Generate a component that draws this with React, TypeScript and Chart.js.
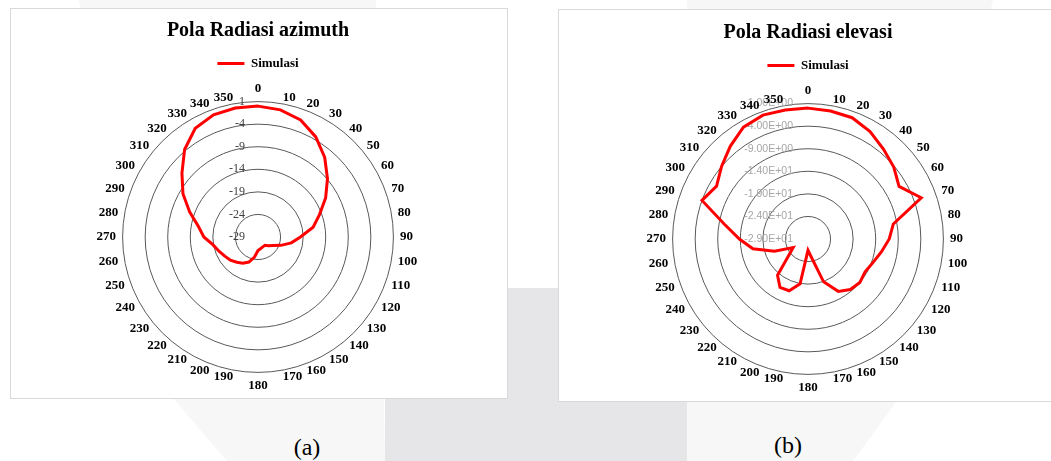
import React, { useEffect, useRef } from 'react';
import { Chart, registerables } from 'chart.js';

Chart.register(...registerables);

// ---------- data ----------
const ANGLE_LABELS = [
  '0', '10', '20', '30', '40', '50', '60', '70', '80', '90', '100', '110',
  '120', '130', '140', '150', '160', '170', '180', '190', '200', '210', '220', '230',
  '240', '250', '260', '270', '280', '290', '300', '310', '320', '330', '340', '350',
];

const AZIMUTH_VALUES = [
  0.0, -0.4, -1.4, -3.4, -6.0, -8.9, -11.7, -14.5, -16.6, -19.6, -21.5, -23.6,
  -25.2, -26.0, -26.6, -26.6, -26.5, -26.3, -26.0, -24.5, -23.1, -22.3, -21.7, -21.0,
  -20.5, -19.8, -18.9, -17.0, -15.6, -12.9, -9.8, -7.0, -3.7, -1.2, -0.2, 0.0,
];

const ELEVATION_VALUES = [
  0.0, -0.2, -0.4, -1.5, -3.0, -4.2, -5.7, -2.3, -9.8, -11.0, -12.5, -13.7,
  -14.4, -14.0, -14.4, -15.6, -18.9, -25.0, -26.5, -18.9, -16.8, -16.6, -18.5, -23.5,
  -25.2, -21.1, -16.6, -13.8, -10.2, -4.0, -5.6, -4.0, -2.2, -0.4, 0.2, 0.0,
];

const TICK_VALUES = [-29, -24, -19, -14, -9, -4, 1];
const TICK_LABELS_A = ['-29', '-24', '-19', '-14', '-9', '-4', '1'];
const TICK_LABELS_B = [
  '-2.90E+01', '-2.40E+01', '-1.90E+01', '-1.40E+01', '-9.00E+00', '-4.00E+00', '1.00E+00',
];

const SERIES_NAME = 'Simulasi';
const TITLE_A = 'Pola Radiasi azimuth';
const TITLE_B = 'Pola Radiasi elevasi';

// ---------- styling ----------
const SERIF = '"Liberation Serif", "Times New Roman", serif';
const SANS = '"Liberation Sans", Arial, sans-serif';
const LABEL_SPACE = 21.6; // room kept outside the outer ring for the angle labels
const LABEL_GAP = 6.5;

// value labels drawn to the left of the vertical axis, like Excel does
const sideTicksPlugin = {
  id: 'sideTicks',
  beforeDatasetsDraw(chart: any, _args: any, opts: any) {
    const s = chart.scales.r;
    const ctx = chart.ctx;
    ctx.save();
    ctx.font = opts.font;
    ctx.fillStyle = opts.color;
    ctx.textAlign = 'right';
    ctx.textBaseline = 'middle';
    TICK_VALUES.forEach((v, i) => {
      const d = s.getDistanceFromCenterForValue(v);
      ctx.fillText(opts.labels[i], s.xCenter - opts.offset, s.yCenter - d);
    });
    ctx.restore();
  },
};

// angle labels placed the Excel way: side labels vertically centred on their anchor
const angleLabelsPlugin = {
  id: 'angleLabels',
  beforeDatasetsDraw(chart: any) {
    const s = chart.scales.r;
    const ctx = chart.ctx;
    const labels: string[] = chart.data.labels;
    ctx.save();
    ctx.font = `bold 13px ${SERIF}`;
    ctx.fillStyle = '#000';
    labels.forEach((lab, i) => {
      const deg = Math.round((i * 360) / labels.length);
      const pos = s.getPointPosition(i, s.drawingArea + LABEL_GAP);
      if (deg === 0) {
        ctx.textAlign = 'center';
        ctx.textBaseline = 'bottom';
      } else if (deg === 180) {
        ctx.textAlign = 'center';
        ctx.textBaseline = 'top';
      } else {
        ctx.textAlign = deg < 180 ? 'left' : 'right';
        ctx.textBaseline = 'middle';
      }
      ctx.fillText(lab, pos.x, pos.y);
    });
    ctx.restore();
  },
};

type PanelProps = {
  title: string;
  values: number[];
  tickLabels: string[];
  tickFont: string;
  tickColor: string;
  tickOffset: number;
  width: number;
  height: number;
  left: number;
  top: number;
};

function PolarChart(p: PanelProps) {
  const ref = useRef<HTMLCanvasElement | null>(null);
  useEffect(() => {
    if (!ref.current) return;
    const chart = new Chart(ref.current, {
      type: 'radar',
      data: {
        labels: ANGLE_LABELS,
        datasets: [
          {
            label: SERIES_NAME,
            data: p.values,
            borderColor: '#ff0000',
            backgroundColor: '#ff0000',
            borderWidth: 3,
            pointRadius: 0,
            pointHoverRadius: 0,
            fill: false,
            tension: 0,
          },
        ],
      },
      options: {
        responsive: false,
        animation: false,
        events: [],
        layout: { padding: { top: 0, bottom: 4, left: 0, right: 0 } },
        plugins: {
          title: {
            display: true,
            text: p.title,
            color: '#000',
            font: { family: SERIF, size: 20, weight: 'bold' },
            padding: { top: 11, bottom: 4 },
          },
          legend: {
            display: true,
            position: 'top',
            labels: {
              usePointStyle: true,
              pointStyle: 'line',
              pointStyleWidth: 27,
              color: '#000',
              font: { family: SERIF, size: 13, weight: 'bold' },
              padding: 10,
            },
          },
          tooltip: { enabled: false },
          sideTicks: {
            labels: p.tickLabels,
            font: p.tickFont,
            color: p.tickColor,
            offset: p.tickOffset,
          },
        } as any,
        scales: {
          r: {
            min: -29,
            max: 1,
            afterBuildTicks: (sc: any) => {
              sc.ticks = TICK_VALUES.map((v) => ({ value: v }));
            },
            afterFit: (sc: any) => {
              sc.drawingArea = sc.drawingArea - LABEL_SPACE;
            },
            ticks: { display: false },
            grid: { color: '#595959', lineWidth: 1, circular: true },
            angleLines: { display: false },
            pointLabels: { display: false },
          },
        },
      } as any,
      plugins: [sideTicksPlugin as any, angleLabelsPlugin as any],
    });
    return () => chart.destroy();
  }, []);
  return (
    <canvas
      ref={ref}
      width={p.width}
      height={p.height}
      style={{ position: 'absolute', left: p.left, top: p.top, width: p.width, height: p.height }}
    />
  );
}

export default function App() {
  return (
    <div
      style={{
        position: 'fixed',
        left: 0,
        top: 0,
        width: 1051,
        height: 461,
        overflow: 'hidden',
        background: '#ffffff',
      }}
    >
      <svg width={1051} height={461} style={{ position: 'absolute', left: 0, top: 0 }}>
        <polygon points="79,0 376,0 385,461 227,461 173,398 120,250" fill="#f7f7f7" />
        <polygon points="698,0 993,0 897,401 853,461 687,461 687,0" fill="#f7f7f7" />
        <rect x={385} y={288} width={302} height={173} fill="#e6e6e8" />
      </svg>
      <div
        style={{
          position: 'absolute',
          left: 10,
          top: 8,
          width: 498,
          height: 391,
          border: '1px solid #d9d9d9',
          boxSizing: 'border-box',
          background: '#fff',
        }}
      />
      <div
        style={{
          position: 'absolute',
          left: 558,
          top: 9,
          width: 520,
          height: 393,
          border: '1px solid #d9d9d9',
          boxSizing: 'border-box',
          background: '#fff',
        }}
      />
      <PolarChart
        title={TITLE_A}
        values={AZIMUTH_VALUES}
        tickLabels={TICK_LABELS_A}
        tickFont={`12px ${SERIF}`}
        tickColor="#404040"
        tickOffset={13}
        width={496}
        height={390}
        left={10}
        top={8}
      />
      <PolarChart
        title={TITLE_B}
        values={ELEVATION_VALUES}
        tickLabels={TICK_LABELS_B}
        tickFont={`10.5px ${SANS}`}
        tickColor="#a6a6a6"
        tickOffset={15}
        width={500}
        height={390}
        left={558}
        top={10}
      />
      <div
        style={{
          position: 'absolute',
          left: 257,
          top: 432,
          width: 100,
          textAlign: 'center',
          font: `24px/30px ${SERIF}`,
          color: '#000',
        }}
      >
        (a)
      </div>
      <div
        style={{
          position: 'absolute',
          left: 738,
          top: 430,
          width: 100,
          textAlign: 'center',
          font: `24px/30px ${SERIF}`,
          color: '#000',
        }}
      >
        (b)
      </div>
    </div>
  );
}
